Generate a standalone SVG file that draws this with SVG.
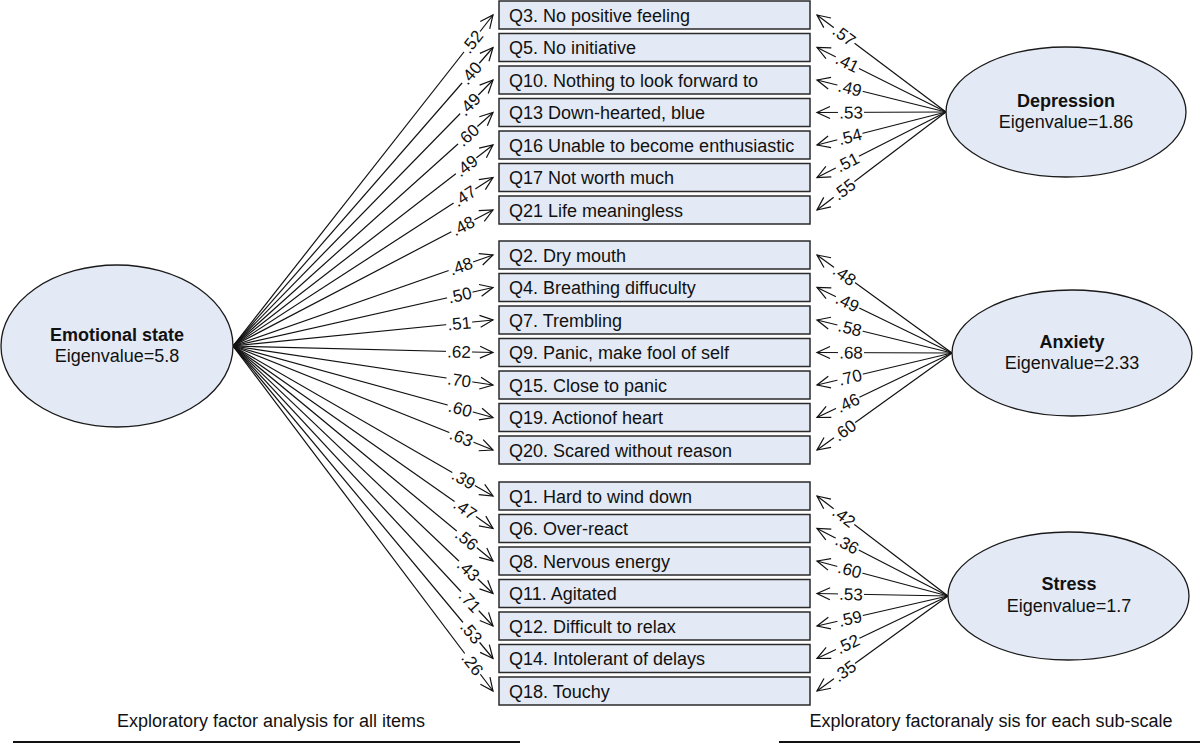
<svg xmlns="http://www.w3.org/2000/svg" width="1200" height="744" viewBox="0 0 1200 744">
<style>
.box{fill:#e4eaf5;stroke:#2a2a2a;stroke-width:1.5}
.ell{fill:#e4eaf5;stroke:#1a1a1a;stroke-width:1.3}
.bt{font-family:"Liberation Sans",Arial,sans-serif;font-size:18px;fill:#111}
.et{font-family:"Liberation Sans",Arial,sans-serif;font-size:18px;fill:#111;text-anchor:middle}
.eb{font-weight:bold}
.ln{stroke:#111;stroke-width:1.2;fill:none;marker-end:url(#ah)}
.lb rect{fill:#fff}
.lb text{font-family:"Liberation Sans",Arial,sans-serif;font-size:17px;fill:#111;text-anchor:middle}
.cap{font-family:"Liberation Sans",Arial,sans-serif;font-size:18px;fill:#111;text-anchor:middle}
</style>
<defs>
<marker id="ah" markerUnits="userSpaceOnUse" markerWidth="16" markerHeight="14" refX="13" refY="6" orient="auto" overflow="visible">
<path d="M0,0 L13,6 L0,12" fill="none" stroke="#111" stroke-width="1.2"/>
</marker>
</defs>
<rect width="1200" height="744" fill="#fff"/>

<g id="connectors">
<path class="ln" d="M233,346 L493,15"/>
<path class="ln" d="M233,346 L493,47.5"/>
<path class="ln" d="M233,346 L493,80"/>
<path class="ln" d="M233,346 L493,112.5"/>
<path class="ln" d="M233,346 L493,145"/>
<path class="ln" d="M233,346 L493,177.5"/>
<path class="ln" d="M233,346 L493,210"/>
<path class="ln" d="M233,346 L493,255"/>
<path class="ln" d="M233,346 L493,287.5"/>
<path class="ln" d="M233,346 L493,320"/>
<path class="ln" d="M233,346 L493,352.5"/>
<path class="ln" d="M233,346 L493,385"/>
<path class="ln" d="M233,346 L493,417.5"/>
<path class="ln" d="M233,346 L493,450"/>
<path class="ln" d="M233,346 L493,496"/>
<path class="ln" d="M233,346 L493,528.5"/>
<path class="ln" d="M233,346 L493,561"/>
<path class="ln" d="M233,346 L493,593.5"/>
<path class="ln" d="M233,346 L493,626"/>
<path class="ln" d="M233,346 L493,658.5"/>
<path class="ln" d="M233,346 L493,691"/>

<path class="ln" d="M946,112 L817,15"/>
<path class="ln" d="M946,112 L817,47.5"/>
<path class="ln" d="M946,112 L817,80"/>
<path class="ln" d="M946,112 L817,112.5"/>
<path class="ln" d="M946,112 L817,145"/>
<path class="ln" d="M946,112 L817,177.5"/>
<path class="ln" d="M946,112 L817,210"/>

<path class="ln" d="M952,353 L817,255"/>
<path class="ln" d="M952,353 L817,287.5"/>
<path class="ln" d="M952,353 L817,320"/>
<path class="ln" d="M952,353 L817,352.5"/>
<path class="ln" d="M952,353 L817,385"/>
<path class="ln" d="M952,353 L817,417.5"/>
<path class="ln" d="M952,353 L817,450"/>

<path class="ln" d="M948,596 L817,496"/>
<path class="ln" d="M948,596 L817,528.5"/>
<path class="ln" d="M948,596 L817,561"/>
<path class="ln" d="M948,596 L817,593.5"/>
<path class="ln" d="M948,596 L817,626"/>
<path class="ln" d="M948,596 L817,658.5"/>
<path class="ln" d="M948,596 L817,691"/>

<g class="lb" transform="translate(472,41.7) rotate(-51.85)"><rect x="-13" y="-8" width="26" height="16"/><text y="6">.52</text></g>
<g class="lb" transform="translate(470.7,73.1) rotate(-48.94)"><rect x="-13" y="-8" width="26" height="16"/><text y="6">.40</text></g>
<g class="lb" transform="translate(469.2,104.3) rotate(-45.65)"><rect x="-13" y="-8" width="26" height="16"/><text y="6">.49</text></g>
<g class="lb" transform="translate(467.7,135.2) rotate(-41.92)"><rect x="-13" y="-8" width="26" height="16"/><text y="6">.60</text></g>
<g class="lb" transform="translate(466.1,165.8) rotate(-37.71)"><rect x="-13" y="-8" width="26" height="16"/><text y="6">.49</text></g>
<g class="lb" transform="translate(464.5,196) rotate(-32.95)"><rect x="-13" y="-8" width="26" height="16"/><text y="6">.47</text></g>
<g class="lb" transform="translate(462.9,225.8) rotate(-27.61)"><rect x="-13" y="-8" width="26" height="16"/><text y="6">.48</text></g>
<g class="lb" transform="translate(460.9,266.2) rotate(-19.29)"><rect x="-13" y="-8" width="26" height="16"/><text y="6">.48</text></g>
<g class="lb" transform="translate(459.8,295) rotate(-12.68)"><rect x="-13" y="-8" width="26" height="16"/><text y="6">.50</text></g>
<g class="lb" transform="translate(459.2,323.4) rotate(-5.71)"><rect x="-13" y="-8" width="26" height="16"/><text y="6">.51</text></g>
<g class="lb" transform="translate(459,351.7) rotate(1.43)"><rect x="-13" y="-8" width="26" height="16"/><text y="6">.62</text></g>
<g class="lb" transform="translate(459.4,380) rotate(8.53)"><rect x="-13" y="-8" width="26" height="16"/><text y="6">.70</text></g>
<g class="lb" transform="translate(460.2,408.5) rotate(15.38)"><rect x="-13" y="-8" width="26" height="16"/><text y="6">.60</text></g>
<g class="lb" transform="translate(461.4,437.4) rotate(21.8)"><rect x="-13" y="-8" width="26" height="16"/><text y="6">.63</text></g>
<g class="lb" transform="translate(463.6,479) rotate(29.98)"><rect x="-13" y="-8" width="26" height="16"/><text y="6">.39</text></g>
<g class="lb" transform="translate(465.2,509) rotate(35.07)"><rect x="-13" y="-8" width="26" height="16"/><text y="6">.47</text></g>
<g class="lb" transform="translate(466.8,539.3) rotate(39.59)"><rect x="-13" y="-8" width="26" height="16"/><text y="6">.56</text></g>
<g class="lb" transform="translate(468.4,570.1) rotate(43.59)"><rect x="-13" y="-8" width="26" height="16"/><text y="6">.43</text></g>
<g class="lb" transform="translate(469.9,601.1) rotate(47.12)"><rect x="-13" y="-8" width="26" height="16"/><text y="6">.71</text></g>
<g class="lb" transform="translate(471.3,632.4) rotate(50.24)"><rect x="-13" y="-8" width="26" height="16"/><text y="6">.53</text></g>
<g class="lb" transform="translate(472.5,663.9) rotate(52.98)"><rect x="-13" y="-8" width="26" height="16"/><text y="6">.26</text></g>

<g class="lb" transform="translate(844.2,35.4) rotate(36.94)"><rect x="-13" y="-8" width="26" height="16"/><text y="6">.57</text></g>
<g class="lb" transform="translate(847.4,62.7) rotate(26.57)"><rect x="-13" y="-8" width="26" height="16"/><text y="6">.41</text></g>
<g class="lb" transform="translate(850,88.2) rotate(13.93)"><rect x="-13" y="-8" width="26" height="16"/><text y="6">.49</text></g>
<g class="lb" transform="translate(851,112.4) rotate(-0.22)"><rect x="-13" y="-8" width="26" height="16"/><text y="6">.53</text></g>
<g class="lb" transform="translate(849.9,136.6) rotate(-14.35)"><rect x="-13" y="-8" width="26" height="16"/><text y="6">.54</text></g>
<g class="lb" transform="translate(847.3,162.1) rotate(-26.92)"><rect x="-13" y="-8" width="26" height="16"/><text y="6">.51</text></g>
<g class="lb" transform="translate(844.1,189.4) rotate(-37.22)"><rect x="-13" y="-8" width="26" height="16"/><text y="6">.55</text></g>

<g class="lb" transform="translate(844.5,275) rotate(35.98)"><rect x="-13" y="-8" width="26" height="16"/><text y="6">.48</text></g>
<g class="lb" transform="translate(847.6,302.3) rotate(25.88)"><rect x="-13" y="-8" width="26" height="16"/><text y="6">.49</text></g>
<g class="lb" transform="translate(850,328.1) rotate(13.74)"><rect x="-13" y="-8" width="26" height="16"/><text y="6">.58</text></g>
<g class="lb" transform="translate(851,352.6) rotate(0.21)"><rect x="-13" y="-8" width="26" height="16"/><text y="6">.68</text></g>
<g class="lb" transform="translate(850.1,377.2) rotate(-13.33)"><rect x="-13" y="-8" width="26" height="16"/><text y="6">.70</text></g>
<g class="lb" transform="translate(847.7,402.8) rotate(-25.54)"><rect x="-13" y="-8" width="26" height="16"/><text y="6">.46</text></g>
<g class="lb" transform="translate(844.6,430.2) rotate(-35.7)"><rect x="-13" y="-8" width="26" height="16"/><text y="6">.60</text></g>

<g class="lb" transform="translate(844,516.6) rotate(37.36)"><rect x="-13" y="-8" width="26" height="16"/><text y="6">.42</text></g>
<g class="lb" transform="translate(847.2,544.1) rotate(27.26)"><rect x="-13" y="-8" width="26" height="16"/><text y="6">.36</text></g>
<g class="lb" transform="translate(849.8,569.8) rotate(14.96)"><rect x="-13" y="-8" width="26" height="16"/><text y="6">.60</text></g>
<g class="lb" transform="translate(851,594.1) rotate(1.09)"><rect x="-13" y="-8" width="26" height="16"/><text y="6">.53</text></g>
<g class="lb" transform="translate(850.1,618.4) rotate(-12.9)"><rect x="-13" y="-8" width="26" height="16"/><text y="6">.59</text></g>
<g class="lb" transform="translate(847.7,643.9) rotate(-25.5)"><rect x="-13" y="-8" width="26" height="16"/><text y="6">.52</text></g>
<g class="lb" transform="translate(844.5,671) rotate(-35.95)"><rect x="-13" y="-8" width="26" height="16"/><text y="6">.35</text></g>
</g>

<g id="emotional-state"><ellipse class="ell" cx="117" cy="346" rx="116" ry="81"/><text class="et eb" x="117" y="341">Emotional state</text><text class="et" x="117" y="362">Eigenvalue=5.8</text></g>
<g id="depression"><ellipse class="ell" cx="1066" cy="112" rx="120" ry="65"/><text class="et eb" x="1066" y="107">Depression</text><text class="et" x="1066" y="128">Eigenvalue=1.86</text></g>
<g id="anxiety"><ellipse class="ell" cx="1072" cy="353" rx="120" ry="63"/><text class="et eb" x="1072" y="348">Anxiety</text><text class="et" x="1072" y="369">Eigenvalue=2.33</text></g>
<g id="stress"><ellipse class="ell" cx="1068.5" cy="596" rx="120.5" ry="64"/><text class="et eb" x="1069" y="590">Stress</text><text class="et" x="1069" y="612">Eigenvalue=1.7</text></g>

<g id="q3"><rect class="box" x="499" y="1" width="311" height="28"/><text class="bt" x="509" y="21.5">Q3. No positive feeling</text></g>
<g id="q5"><rect class="box" x="499" y="33.5" width="311" height="28"/><text class="bt" x="509" y="54">Q5. No initiative</text></g>
<g id="q10"><rect class="box" x="499" y="66" width="311" height="28"/><text class="bt" x="509" y="86.5">Q10. Nothing to look forward to</text></g>
<g id="q13"><rect class="box" x="499" y="98.5" width="311" height="28"/><text class="bt" x="509" y="119">Q13 Down-hearted, blue</text></g>
<g id="q16"><rect class="box" x="499" y="131" width="311" height="28"/><text class="bt" x="509" y="151.5">Q16 Unable to become enthusiastic</text></g>
<g id="q17"><rect class="box" x="499" y="163.5" width="311" height="28"/><text class="bt" x="509" y="184">Q17 Not worth much</text></g>
<g id="q21"><rect class="box" x="499" y="196" width="311" height="28"/><text class="bt" x="509" y="216.5">Q21 Life meaningless</text></g>

<g id="q2"><rect class="box" x="499" y="241" width="311" height="28"/><text class="bt" x="509" y="261.5">Q2. Dry mouth</text></g>
<g id="q4"><rect class="box" x="499" y="273.5" width="311" height="28"/><text class="bt" x="509" y="294">Q4. Breathing diffuculty</text></g>
<g id="q7"><rect class="box" x="499" y="306" width="311" height="28"/><text class="bt" x="509" y="326.5">Q7. Trembling</text></g>
<g id="q9"><rect class="box" x="499" y="338.5" width="311" height="28"/><text class="bt" x="509" y="359">Q9. Panic, make fool of self</text></g>
<g id="q15"><rect class="box" x="499" y="371" width="311" height="28"/><text class="bt" x="509" y="391.5">Q15. Close to panic</text></g>
<g id="q19"><rect class="box" x="499" y="403.5" width="311" height="28"/><text class="bt" x="509" y="424">Q19. Actionof heart</text></g>
<g id="q20"><rect class="box" x="499" y="436" width="311" height="28"/><text class="bt" x="509" y="456.5">Q20. Scared without reason</text></g>

<g id="q1"><rect class="box" x="499" y="482" width="311" height="28"/><text class="bt" x="509" y="502.5">Q1. Hard to wind down</text></g>
<g id="q6"><rect class="box" x="499" y="514.5" width="311" height="28"/><text class="bt" x="509" y="535">Q6. Over-react</text></g>
<g id="q8"><rect class="box" x="499" y="547" width="311" height="28"/><text class="bt" x="509" y="567.5">Q8. Nervous energy</text></g>
<g id="q11"><rect class="box" x="499" y="579.5" width="311" height="28"/><text class="bt" x="509" y="600">Q11. Agitated</text></g>
<g id="q12"><rect class="box" x="499" y="612" width="311" height="28"/><text class="bt" x="509" y="632.5">Q12. Difficult to relax</text></g>
<g id="q14"><rect class="box" x="499" y="644.5" width="311" height="28"/><text class="bt" x="509" y="665">Q14. Intolerant of delays</text></g>
<g id="q18"><rect class="box" x="499" y="677" width="311" height="28"/><text class="bt" x="509" y="697.5">Q18. Touchy</text></g>

<g id="captions">
<text class="cap" x="271" y="727">Exploratory factor analysis for all items</text>
<text class="cap" x="991" y="727">Exploratory factoranaly sis for each sub-scale</text>
<line x1="13" y1="742" x2="520" y2="742" stroke="#111" stroke-width="2"/>
<line x1="779" y1="742" x2="1200" y2="742" stroke="#111" stroke-width="2"/>
</g>
</svg>
